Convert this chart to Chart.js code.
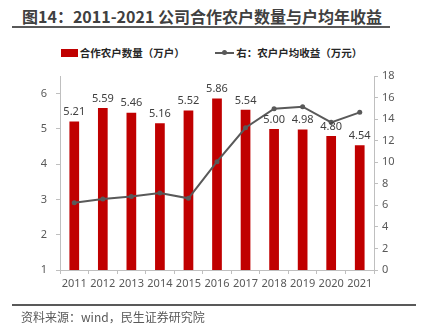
<!DOCTYPE html>
<html>
<head>
<meta charset="utf-8">
<script src="https://cdn.jsdelivr.net/npm/chart.js@4.4.1/dist/chart.umd.min.js"></script>
<style>
  html, body { margin: 0; padding: 0; background: #fff; }
  #wrap { position: relative; width: 423px; height: 329px; overflow: hidden; font-family: "Noto Sans CJK SC", "Noto Sans", sans-serif; }
  #chart { position: absolute; left: 0; top: 0; }
  #title { position: absolute; left: 22px; top: 4px; font-size: 16px; font-weight: bold; color: #404040; white-space: nowrap; line-height: 24px; }
  .rule { position: absolute; height: 2px; background: #595959; }
  #legend { position: absolute; top: 44px; left: 0; width: 423px; text-align: center; font-size: 10.5px; font-weight: bold; color: #262626; white-space: nowrap; line-height: 16px; }
  .item { display: inline-block; vertical-align: middle; }
  .swatch { display: inline-block; width: 17px; height: 8px; background: #C00000; vertical-align: middle; margin-right: 2px; position: relative; top: -1px; }
  .lineKey { display: inline-block; width: 19px; height: 2px; background: #595959; vertical-align: middle; margin-right: 2px; position: relative; top: -1px; }
  .lineKey::after { content: ""; position: absolute; left: 7px; top: -2px; width: 5px; height: 5px; border-radius: 50%; background: #595959; }
  #source { position: absolute; left: 21px; top: 309px; font-size: 12px; color: #595959; white-space: nowrap; line-height: 16px; }
</style>
</head>
<body>
<div id="wrap">
  <div id="title">图14：2011-2021 公司合作农户数量与户均年收益</div>
  <div class="rule" style="left:12px; top:26px; width:378px;"></div>
  <div id="legend">
    <span class="item"><span class="swatch"></span>合作农户数量（万户）</span>
    <span class="item" style="margin-left:28px;"><span class="lineKey"></span>右：农户户均收益（万元）</span>
  </div>
  <canvas id="chart" width="423" height="329"></canvas>
  <div class="rule" style="left:12px; top:304px; width:404px;"></div>
  <div id="source">资料来源：wind，民生证券研究院</div>
</div>
<script>
'use strict';

/* Data */
const years = ['2011', '2012', '2013', '2014', '2015', '2016', '2017', '2018', '2019', '2020', '2021'];
const farmerCounts = [5.21, 5.59, 5.46, 5.16, 5.52, 5.86, 5.54, 5.00, 4.98, 4.80, 4.54]; // 万户
const avgIncome = [6.24, 6.59, 6.83, 7.14, 6.65, 10.05, 13.2, 14.96, 15.15, 13.7, 14.63]; // 万元
const leftTicks = [1, 2, 3, 4, 5, 6];

const AXIS_GREY = '#BFBFBF';
const TICK_FONT = { family: '"Noto Sans", "Open Sans", sans-serif', size: 11 };

/* Value labels above each bar */
const barValueLabels = {
  id: 'barValueLabels',
  afterDatasetsDraw(chart) {
    const ctx = chart.ctx;
    const meta = chart.getDatasetMeta(0);
    ctx.save();
    ctx.font = '11px "Noto Sans", "Open Sans", sans-serif';
    ctx.fillStyle = '#404040';
    ctx.textAlign = 'center';
    ctx.textBaseline = 'bottom';
    meta.data.forEach((bar, i) => {
      ctx.fillText(farmerCounts[i].toFixed(2), bar.x, bar.y - 4);
    });
    ctx.restore();
  }
};

const ctx = document.getElementById('chart').getContext('2d');
new Chart(ctx, {
  data: {
    labels: years,
    datasets: [
      {
        type: 'bar',
        label: '合作农户数量（万户）',
        data: farmerCounts,
        yAxisID: 'yLeft',
        backgroundColor: '#C00000',
        barPercentage: 0.34,
        categoryPercentage: 1,
        order: 2,
      },
      {
        type: 'line',
        label: '右：农户户均收益（万元）',
        data: avgIncome,
        yAxisID: 'yRight',
        borderColor: '#595959',
        backgroundColor: '#595959',
        borderWidth: 2,
        pointRadius: 2.5,
        pointBackgroundColor: '#595959',
        pointBorderWidth: 0,
        tension: 0,
        order: 1,
      },
    ],
  },
  options: {
    responsive: false,
    animation: false,
    layout: { padding: { top: 76, left: 0, right: 0, bottom: 0 } },
    plugins: {
      legend: { display: false },
      tooltip: { enabled: false },
    },
    scales: {
      x: {
        offset: true,
        grid: { display: true, offset: true, drawOnChartArea: false, drawTicks: true, tickLength: 4, color: AXIS_GREY },
        border: { display: true, color: AXIS_GREY, width: 1 },
        ticks: { color: '#595959', font: TICK_FONT, padding: 3, maxRotation: 0, autoSkip: false },
        afterFit(scale) { scale.height = 59; },
      },
      yLeft: {
        position: 'left',
        min: 1,
        max: 6.5,
        afterBuildTicks(scale) {
          scale.ticks = leftTicks.map(v => ({ value: v }));
        },
        grid: { drawOnChartArea: false, drawTicks: true, tickLength: 4, color: AXIS_GREY },
        border: { display: true, color: AXIS_GREY, width: 1 },
        ticks: { color: '#595959', font: TICK_FONT, padding: 9 },
        afterFit(scale) { scale.width = 60; },
      },
      yRight: {
        position: 'right',
        min: 0,
        max: 18,
        grid: { drawOnChartArea: false, drawTicks: true, tickLength: 4, color: AXIS_GREY },
        border: { display: true, color: AXIS_GREY, width: 1 },
        ticks: { stepSize: 2, color: '#595959', font: TICK_FONT, padding: 4 },
        afterFit(scale) { scale.width = 49; },
      },
    },
  },
  plugins: [barValueLabels],
});
</script>
</body>
</html>
